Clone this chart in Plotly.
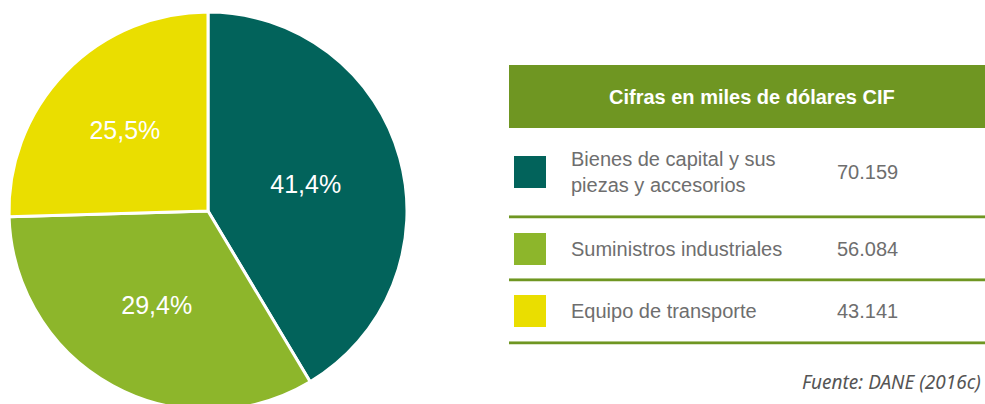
import plotly.graph_objects as go

# ---- data ----
categories = ["Bienes de capital y sus<br>piezas y accesorios",
              "Suministros industriales",
              "Equipo de transporte"]
values = [70159, 56084, 43141]
value_labels = ["70.159", "56.084", "43.141"]
pct_labels = ["41,4%", "29,4%", "25,5%"]
header_title = "Cifras en miles de dólares CIF"
source_note = "Fuente: DANE (2016c)"

# ---- style ----
colors = ["#02635B", "#8DB62B", "#EADE00"]
W, H = 985, 412
FONT = "Liberation Sans, Arial, sans-serif"
GREEN = "#6F9622"
TEXT_GRAY = "#6E6E6E"


def px(x):
    return x / W


def py(y):
    return 1 - y / H


fig = go.Figure()
fig.add_trace(go.Pie(
    values=values,
    labels=categories,
    text=pct_labels,
    textinfo="text",
    textposition="inside",
    insidetextorientation="horizontal",
    sort=False,
    direction="clockwise",
    rotation=0,
    marker=dict(colors=colors, line=dict(color="white", width=3)),
    textfont=dict(family=FONT, size=25, color="white"),
    domain=dict(x=[px(9), px(407)], y=[py(410), py(12)]),
    showlegend=False,
    hoverinfo="label+value",
))

shapes = []
annotations = []

# header bar
shapes.append(dict(type="rect", xref="paper", yref="paper",
                   x0=px(509), x1=px(1000), y0=py(128), y1=py(65),
                   fillcolor=GREEN, line=dict(width=0), layer="below"))
annotations.append(dict(xref="paper", yref="paper", x=px(752), y=py(97),
                        text="<b>" + header_title + "</b>", showarrow=False,
                        xanchor="center", yanchor="middle",
                        font=dict(family=FONT, size=20, color="white")))

row_centers = [172, 249, 311]
sep_lines = [217, 280, 343]
for i, cat in enumerate(categories):
    yc = row_centers[i]
    shapes.append(dict(type="rect", xref="paper", yref="paper",
                       x0=px(514), x1=px(546), y0=py(yc + 16), y1=py(yc - 16),
                       fillcolor=colors[i], line=dict(width=0)))
    annotations.append(dict(xref="paper", yref="paper", x=px(569), y=py(yc),
                            text=cat, showarrow=False, align="left",
                            xanchor="left", yanchor="middle",
                            font=dict(family=FONT, size=20, color=TEXT_GRAY)))
    annotations.append(dict(xref="paper", yref="paper", x=px(835), y=py(yc),
                            text=value_labels[i], showarrow=False,
                            xanchor="left", yanchor="middle",
                            font=dict(family=FONT, size=20, color=TEXT_GRAY)))
    ys = sep_lines[i]
    shapes.append(dict(type="line", xref="paper", yref="paper",
                       x0=px(509), x1=px(1000), y0=py(ys - 1.5), y1=py(ys - 1.5),
                       line=dict(color="#C5D6A4", width=1)))
    shapes.append(dict(type="line", xref="paper", yref="paper",
                       x0=px(509), x1=px(1000), y0=py(ys), y1=py(ys),
                       line=dict(color=GREEN, width=2.5)))

annotations.append(dict(xref="paper", yref="paper", x=px(983), y=py(382),
                        text="<i>" + source_note + "</i>", showarrow=False,
                        xanchor="right", yanchor="middle",
                        font=dict(family="Noto Sans, sans-serif", size=19,
                                  color="#555555")))

fig.update_layout(
    width=W, height=H,
    margin=dict(l=0, r=0, t=0, b=0),
    paper_bgcolor="white",
    plot_bgcolor="white",
    shapes=shapes,
    annotations=annotations,
)

fig.write_html(
    "out.html",
    config=dict(displayModeBar=False),
    post_script="document.body.style.margin='0';"
                "document.documentElement.style.overflow='hidden';"
                "document.body.style.overflow='hidden';",
)
